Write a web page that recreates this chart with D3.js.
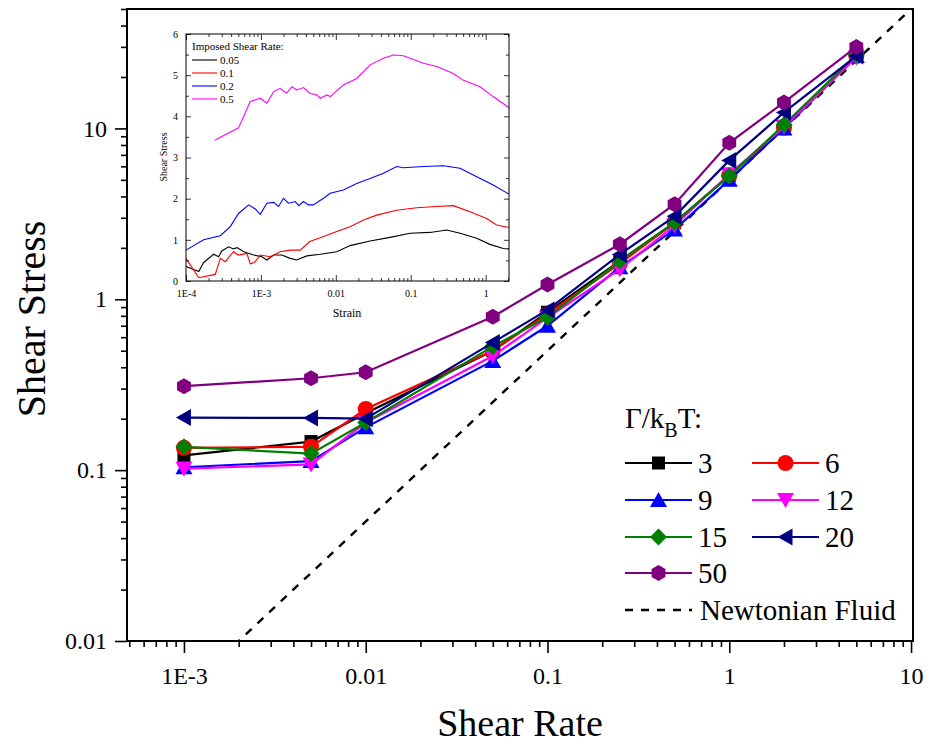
<!DOCTYPE html>
<html>
<head>
<meta charset="utf-8">
<script src="https://cdn.jsdelivr.net/npm/d3@7"></script>
<style>
  body { margin: 0; background: #fff; }
  svg { display: block; }
  svg text { font-family: 'Liberation Serif', 'DejaVu Serif', serif !important; fill: #000; }
</style>
</head>
<body>
<svg id="chart" width="942" height="744" font-family="Liberation Serif"></svg>
<script>
// ---- main plot data: shear stress vs shear rate for each Γ/kBT ----
const shearRates = [0.001, 0.005, 0.01, 0.05, 0.1, 0.25, 0.5, 1, 2, 5];
const stress3  = [0.122, 0.147, 0.215, 0.50, 0.84, 1.68, 2.80, 5.30, 10.3, 26.5];
const stress6  = [0.135, 0.137, 0.228, 0.50, 0.82, 1.62, 2.80, 5.30, 10.1, 26.5];
const stress9  = [0.104, 0.113, 0.178, 0.436, 0.70, 1.54, 2.56, 5.00, 10.0, 26.5];
const stress12 = [0.102, 0.108, 0.190, 0.466, 0.78, 1.50, 2.70, 5.40, 10.2, 26.0];
const stress15 = [0.137, 0.125, 0.190, 0.53, 0.785, 1.675, 2.82, 5.26, 10.5, 27.0];
const stress20 = [0.203, 0.202, 0.200, 0.558, 0.866, 1.83, 3.06, 6.50, 12.4, 26.5];
const stress50 = [0.31, 0.345, 0.374, 0.79, 1.22, 2.10, 3.60, 8.24, 14.2, 30.0];
const gammaLabels = ["3", "6", "9", "12", "15", "20", "50"];
const seriesColors = ["#000000", "#ff0000", "#0000ff", "#ff00ff", "#008000", "#000080", "#800080"];
const seriesSymbols = ["square", "circle", "triangleUp", "triangleDown", "diamond", "triangleLeft", "hexagon"];
const newtonianViscosity = 5;               // Newtonian reference: stress = 5 * rate
const newtonianRates = [0.0005, 12];

const xTickValues = [0.001, 0.01, 0.1, 1, 10];
const xTickLabels = ["1E-3", "0.01", "0.1", "1", "10"];
const yTickValues = [0.01, 0.1, 1, 10];
const yTickLabels = ["0.01", "0.1", "1", "10"];

// ---- inset data: shear stress vs strain at imposed shear rates ----
const insetRates = ["0.05", "0.1", "0.2", "0.5"];
const insetColors = ["#000000", "#ff0000", "#0000ff", "#ff00ff"];
const curve005 = [[1e-4,0.35],[1.48e-4,0.23],[1.72e-4,0.45],[2.34e-4,0.65],[2.73e-4,0.59],[3e-4,0.73],[3.7e-4,0.83],[4.3e-4,0.78],[4.8e-4,0.81],[5.9e-4,0.71],[8e-4,0.63],[1.03e-3,0.59],[1.2e-3,0.51],[1.48e-3,0.63],[1.9e-3,0.63],[2.46e-3,0.55],[3e-3,0.51],[4.1e-3,0.61],[6.2e-3,0.65],[0.0103,0.71],[0.0155,0.86],[0.0287,0.97],[0.053,1.06],[0.098,1.16],[0.181,1.18],[0.302,1.24],[0.455,1.16],[0.76,1.04],[1.14,0.89],[1.72,0.79],[2.05,0.78]];
const curve01 = [[1e-4,0.55],[1.48e-4,0.08],[2.46e-4,0.16],[2.87e-4,0.55],[3.34e-4,0.47],[4.3e-4,0.71],[5e-4,0.63],[6.5e-4,0.67],[7.2e-4,0.42],[8.2e-4,0.45],[9.8e-4,0.63],[1.33e-3,0.59],[1.81e-3,0.71],[2.46e-3,0.75],[3.34e-3,0.75],[4.5e-3,0.96],[6.85e-3,1.08],[0.0103,1.20],[0.0155,1.32],[0.0234,1.48],[0.0352,1.60],[0.065,1.72],[0.12,1.78],[0.222,1.81],[0.37,1.83],[0.618,1.68],[1.03,1.52],[1.4,1.36],[2.05,1.30]];
const curve02 = [[1e-4,0.75],[1.72e-4,1.0],[2.87e-4,1.10],[3.9e-4,1.32],[5.03e-4,1.64],[6.85e-4,1.85],[8.4e-4,1.75],[9.8e-4,1.62],[1.2e-3,1.89],[1.48e-3,1.91],[1.72e-3,1.81],[2e-3,2.01],[2.34e-3,1.89],[2.87e-3,1.93],[3.2e-3,1.83],[3.7e-3,1.93],[4.3e-3,1.85],[5e-3,1.85],[6.85e-3,2.01],[8.4e-3,2.13],[0.0126,2.21],[0.019,2.37],[0.0287,2.49],[0.0432,2.62],[0.065,2.78],[0.08,2.75],[0.148,2.78],[0.273,2.80],[0.455,2.74],[0.76,2.53],[1.26,2.33],[2.05,2.11]];
const curve05 = [[2.41e-4,3.42],[5.03e-4,3.72],[7.2e-4,4.36],[9.8e-4,4.44],[1.2e-3,4.32],[1.48e-3,4.6],[1.81e-3,4.68],[2.2e-3,4.56],[2.6e-3,4.72],[3e-3,4.64],[3.7e-3,4.70],[4.5e-3,4.56],[5.6e-3,4.52],[6.2e-3,4.44],[7.6e-3,4.52],[8.4e-3,4.48],[0.0126,4.76],[0.019,4.92],[0.0287,5.25],[0.0432,5.41],[0.0588,5.49],[0.0798,5.47],[0.098,5.41],[0.148,5.29],[0.222,5.21],[0.37,5.04],[0.5,4.88],[0.84,4.72],[1.26,4.48],[2.05,4.21]];
const insetXTicks = [1e-4, 1e-3, 0.01, 0.1, 1];
const insetXLabels = ["1E-4", "1E-3", "0.01", "0.1", "1"];
const insetYTicks = [0, 1, 2, 3, 4, 5, 6];

const SERIF = "'Liberation Serif', 'DejaVu Serif', serif";
const svg = d3.select("#chart");

// ---------- main plot ----------
const M = { left: 127, right: 913, top: 9, bottom: 641 };
const x = d3.scaleLog().domain([4.86e-4, 10.25]).range([M.left, M.right]);
const y = d3.scaleLog().domain([0.01, 50]).range([M.bottom, M.top]);

function minorTicks(scale) {
  const [a, b] = scale.domain();
  const out = [];
  for (let e = Math.floor(Math.log10(a)); e <= Math.ceil(Math.log10(b)); e++) {
    for (let m = 2; m <= 9; m++) {
      const v = m * Math.pow(10, e);
      if (v >= a && v <= b) out.push(v);
    }
  }
  return out;
}

const plotG = svg.append("g");

// Newtonian fluid reference line, clipped to the plot area
svg.append("clipPath").attr("id", "plotClip")
  .append("rect").attr("x", M.left).attr("y", M.top)
  .attr("width", M.right - M.left).attr("height", M.bottom - M.top);

plotG.append("path")
  .datum(newtonianRates)
  .attr("clip-path", "url(#plotClip)")
  .attr("d", d3.line().x(d => x(d)).y(d => y(newtonianViscosity * d)))
  .attr("fill", "none").attr("stroke", "#000").attr("stroke-width", 2.4)
  .attr("stroke-dasharray", "8,8");

// marker shapes, centred on their bounding box
function markerPath(kind) {
  const p = d3.path();
  switch (kind) {
    case "square": p.rect(-6.5, -6.5, 13, 13); break;
    case "circle": p.arc(0, 0, 8, 0, 2 * Math.PI); break;
    case "triangleUp": p.moveTo(0, -8); p.lineTo(8.5, 7); p.lineTo(-8.5, 7); p.closePath(); break;
    case "triangleDown": p.moveTo(0, 8); p.lineTo(8.5, -7); p.lineTo(-8.5, -7); p.closePath(); break;
    case "triangleLeft": p.moveTo(-8, 0); p.lineTo(7, -8.5); p.lineTo(7, 8.5); p.closePath(); break;
    case "diamond": p.moveTo(0, -8.5); p.lineTo(8.5, 0); p.lineTo(0, 8.5); p.lineTo(-8.5, 0); p.closePath(); break;
    case "hexagon": {
      const r = 8;
      for (let i = 0; i < 6; i++) {
        const ang = Math.PI / 2 + i * Math.PI / 3;
        const px = r * Math.cos(ang), py = r * Math.sin(ang);
        if (i === 0) p.moveTo(px, py); else p.lineTo(px, py);
      }
      p.closePath(); break;
    }
  }
  return p.toString();
}

const allStress = [stress3, stress6, stress9, stress12, stress15, stress20, stress50];
const seriesTable = allStress.map((vals, i) => ({
  label: gammaLabels[i], color: seriesColors[i], symbol: seriesSymbols[i],
  points: shearRates.map((r, j) => ({ rate: r, stress: vals[j] }))
}));

const line = d3.line().x(d => x(d.rate)).y(d => y(d.stress));
seriesTable.forEach(s => {
  const g = plotG.append("g");
  g.append("path").datum(s.points).attr("d", line)
    .attr("fill", "none").attr("stroke", s.color).attr("stroke-width", 2.2);
  g.selectAll("path.m").data(s.points).join("path").attr("class", "m")
    .attr("transform", d => `translate(${x(d.rate)},${y(d.stress)})`)
    .attr("d", markerPath(s.symbol)).attr("fill", s.color);
});

// axes
const xMajor = d3.axisBottom(x).tickValues(xTickValues)
  .tickFormat((d, i) => xTickLabels[i]).tickSize(12).tickPadding(14);
const xMinor = d3.axisBottom(x).tickValues(minorTicks(x)).tickFormat("").tickSize(6);
const yMajor = d3.axisLeft(y).tickValues(yTickValues)
  .tickFormat((d, i) => yTickLabels[i]).tickSize(12).tickPadding(8);
const yMinor = d3.axisLeft(y).tickValues(minorTicks(y)).tickFormat("").tickSize(6);

function styleAxis(g) {
  g.attr("font-family", SERIF);
  g.select(".domain").remove();
  g.selectAll(".tick line").attr("stroke", "#000").attr("stroke-width", 1.6);
  g.selectAll(".tick text").attr("font-size", 24).attr("font-family", SERIF);
}
svg.append("g").attr("transform", `translate(0,${M.bottom})`).call(xMinor).call(styleAxis);
svg.append("g").attr("transform", `translate(0,${M.bottom})`).call(xMajor).call(styleAxis);
svg.append("g").attr("transform", `translate(${M.left},0)`).call(yMinor).call(styleAxis);
svg.append("g").attr("transform", `translate(${M.left},0)`).call(yMajor).call(styleAxis);

// frame
svg.append("rect").attr("x", M.left).attr("y", M.top)
  .attr("width", M.right - M.left).attr("height", M.bottom - M.top)
  .attr("fill", "none").attr("stroke", "#000").attr("stroke-width", 2);

// axis titles
svg.append("text").attr("x", 520).attr("y", 736).attr("text-anchor", "middle")
  .attr("font-family", SERIF).attr("font-size", 38).text("Shear Rate");
svg.append("text").attr("transform", "translate(45,319) rotate(-90)")
  .attr("text-anchor", "middle").attr("font-family", SERIF).attr("font-size", 40).text("Shear Stress");

// ---------- legend ----------
const legend = svg.append("g").attr("font-family", SERIF);
const lt = legend.append("text").attr("x", 625).attr("y", 428).attr("font-size", 29);
lt.append("tspan").text("Γ/k");
lt.append("tspan").attr("dy", 9).attr("font-size", 20).text("B");
lt.append("tspan").attr("dy", -9).text("T:");

const legendCols = [625, 752];
const legendRows = [463, 500, 537, 573];
seriesTable.forEach((s, i) => {
  const lx = legendCols[i % 2], ly = legendRows[Math.floor(i / 2)];
  legend.append("line").attr("x1", lx).attr("x2", lx + 67).attr("y1", ly).attr("y2", ly)
    .attr("stroke", s.color).attr("stroke-width", 2.2);
  legend.append("path").attr("transform", `translate(${lx + 33.5},${ly})`)
    .attr("d", markerPath(s.symbol)).attr("fill", s.color);
  legend.append("text").attr("x", lx + 73).attr("y", ly + 10).attr("font-size", 29).text(s.label);
});
legend.append("line").attr("x1", 625).attr("x2", 692).attr("y1", 610).attr("y2", 610)
  .attr("stroke", "#000").attr("stroke-width", 2.4).attr("stroke-dasharray", "8,8");
legend.append("text").attr("x", 700).attr("y", 620).attr("font-size", 29).text("Newtonian Fluid");

// ---------- inset ----------
const I = { left: 186, right: 509, top: 34, bottom: 281 };
const ix = d3.scaleLog().domain([1e-4, 2.05]).range([I.left, I.right]);
const iy = d3.scaleLinear().domain([0, 6]).range([I.bottom, I.top]);

const inset = svg.append("g").attr("font-family", SERIF);
inset.append("rect").attr("x", I.left).attr("y", I.top)
  .attr("width", I.right - I.left).attr("height", I.bottom - I.top).attr("fill", "#fff");

const insetCurves = [curve005, curve01, curve02, curve05];
const iline = d3.line().x(d => ix(d[0])).y(d => iy(d[1]));
insetCurves.forEach((c, i) => {
  inset.append("path").datum(c).attr("d", iline)
    .attr("fill", "none").attr("stroke", insetColors[i]).attr("stroke-width", 1.1);
});

function styleInsetAxis(g) {
  g.attr("font-family", SERIF);
  g.select(".domain").remove();
  g.selectAll(".tick line").attr("stroke", "#000").attr("stroke-width", 0.8);
  g.selectAll(".tick text").attr("font-size", 10).attr("font-family", SERIF);
}
const insetMinorX = minorTicks(ix);
const insetMinorY = d3.range(0.5, 6, 1);
// inward ticks on all four sides, labels on left and bottom
inset.append("g").attr("transform", `translate(0,${I.bottom})`)
  .call(d3.axisBottom(ix).tickValues(insetXTicks).tickFormat((d, i) => insetXLabels[i])
    .tickSizeInner(-6).tickSizeOuter(0).tickPadding(9)).call(styleInsetAxis);
inset.append("g").attr("transform", `translate(0,${I.bottom})`)
  .call(d3.axisBottom(ix).tickValues(insetMinorX).tickFormat("").tickSizeInner(-3).tickSizeOuter(0)).call(styleInsetAxis);
inset.append("g").attr("transform", `translate(0,${I.top})`)
  .call(d3.axisTop(ix).tickValues(insetXTicks).tickFormat("").tickSizeInner(-6).tickSizeOuter(0)).call(styleInsetAxis);
inset.append("g").attr("transform", `translate(0,${I.top})`)
  .call(d3.axisTop(ix).tickValues(insetMinorX).tickFormat("").tickSizeInner(-3).tickSizeOuter(0)).call(styleInsetAxis);
inset.append("g").attr("transform", `translate(${I.left},0)`)
  .call(d3.axisLeft(iy).tickValues(insetYTicks).tickFormat(d3.format("d"))
    .tickSizeInner(-5).tickSizeOuter(0).tickPadding(8)).call(styleInsetAxis);
inset.append("g").attr("transform", `translate(${I.left},0)`)
  .call(d3.axisLeft(iy).tickValues(insetMinorY).tickFormat("").tickSizeInner(-3).tickSizeOuter(0)).call(styleInsetAxis);
inset.append("g").attr("transform", `translate(${I.right},0)`)
  .call(d3.axisRight(iy).tickValues(insetYTicks).tickFormat("").tickSizeInner(-5).tickSizeOuter(0)).call(styleInsetAxis);
inset.append("g").attr("transform", `translate(${I.right},0)`)
  .call(d3.axisRight(iy).tickValues(insetMinorY).tickFormat("").tickSizeInner(-3).tickSizeOuter(0)).call(styleInsetAxis);

inset.append("rect").attr("x", I.left).attr("y", I.top)
  .attr("width", I.right - I.left).attr("height", I.bottom - I.top)
  .attr("fill", "none").attr("stroke", "#000").attr("stroke-width", 1);

inset.append("text").attr("x", 347).attr("y", 317).attr("text-anchor", "middle")
  .attr("font-size", 12).text("Strain");
inset.append("text").attr("transform", "translate(167,157) rotate(-90)")
  .attr("text-anchor", "middle").attr("font-size", 10).text("Shear Stress");

// inset legend
inset.append("text").attr("x", 192).attr("y", 50).attr("font-size", 11).text("Imposed Shear Rate:");
insetRates.forEach((r, i) => {
  const ly = 60 + i * 13;
  inset.append("line").attr("x1", 192).attr("x2", 217).attr("y1", ly).attr("y2", ly)
    .attr("stroke", insetColors[i]).attr("stroke-width", 1.1);
  inset.append("text").attr("x", 220).attr("y", ly + 3.5).attr("font-size", 11).text(r);
});
</script>
</body>
</html>
